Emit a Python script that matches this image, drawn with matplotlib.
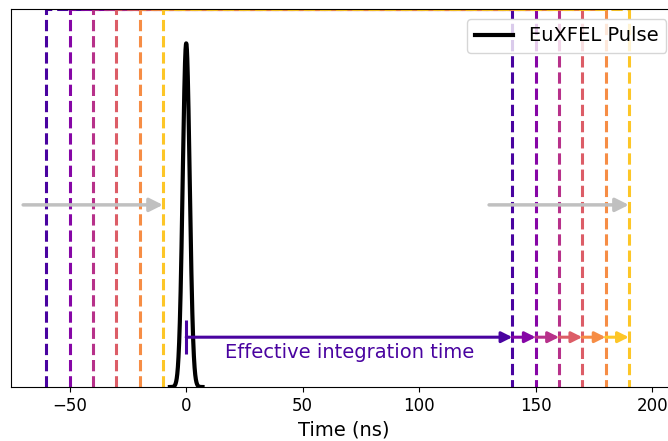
import numpy as np
import matplotlib.pyplot as plt

# gate start/end times (ns)
gate_starts = [-60, -50, -40, -30, -20, -10]
gate_ends = [140, 150, 160, 170, 180, 190]

# EuXFEL pulse (gaussian, ns)
pulse_center = 0.0
pulse_sigma = 1.5
pulse_amp = 1.0

# arrow positions
shift_arrow_y = 0.53
shift_left = (-70, -10)
shift_right = (130, 190)
integ_y = 0.145
integ_start = 0
label_y = 0.10

colors = plt.cm.plasma(np.linspace(0.12, 0.88, len(gate_starts)))

fig = plt.figure(figsize=(6.68, 4.41), dpi=100)
ax = fig.add_axes([0.0172, 0.1224, 0.995, 0.8572])

t = np.linspace(-7, 7, 1000)
pulse = pulse_amp * np.exp(-0.5 * ((t - pulse_center) / pulse_sigma) ** 2)

# gate windows as dashed boxes
top = 1.1
for s, e, c in zip(gate_starts, gate_ends, colors):
    ax.plot([s, s, e, e], [0, top, top, 0], ls='--', color=c, lw=2.2)

ax.plot(t, pulse, color='black', lw=3, label='EuXFEL Pulse')

# shift arrows
arrow_kw = dict(arrowstyle='-|>', color='silver', lw=2.5, mutation_scale=20,
                shrinkA=0, shrinkB=0)
ax.annotate('', xy=(shift_left[1], shift_arrow_y), xytext=(shift_left[0], shift_arrow_y),
            arrowprops=arrow_kw)
ax.annotate('', xy=(shift_right[1], shift_arrow_y), xytext=(shift_right[0], shift_arrow_y),
            arrowprops=arrow_kw)

# effective integration time arrows
pts = [integ_start] + gate_ends
for i, c in enumerate(colors):
    ax.annotate('', xy=(pts[i + 1], integ_y), xytext=(pts[i], integ_y),
                arrowprops=dict(arrowstyle='-|>', color=c, lw=2.2, mutation_scale=16,
                                shrinkA=0, shrinkB=0))
ax.plot([integ_start], [integ_y], marker='|', markersize=24, mew=2.2, color=colors[0])
ax.text((integ_start + gate_ends[0]) / 2, label_y, 'Effective integration time',
        color=colors[0], fontsize=14, ha='center', va='center')

ax.set_xlim(-75, 210.3)
ax.set_ylim(0, top)
ax.set_yticks([])
ax.set_xticks([-50, 0, 50, 100, 150, 200])
ax.tick_params(axis='x', labelsize=12)
ax.set_xlabel('Time (ns)', fontsize=14)
ax.legend(loc='upper right', fontsize=14)

fig.savefig('out.png', dpi=100)
